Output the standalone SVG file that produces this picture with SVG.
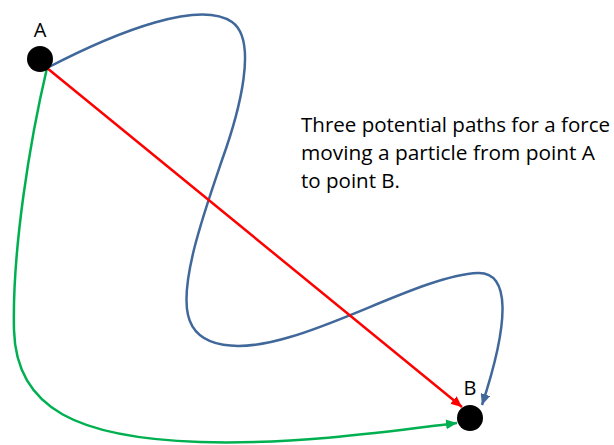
<svg xmlns="http://www.w3.org/2000/svg" width="614" height="445" viewBox="0 0 614 445">
<style>
.lbl{font-family:"Open Sans","Liberation Sans",sans-serif;font-size:20px;fill:#000;text-anchor:middle}
.cap{font-family:"Open Sans","Liberation Sans",sans-serif;font-size:20px;fill:#000}
.path{fill:none;stroke-width:2.5}
</style>
<defs>
<marker id="ar" markerUnits="userSpaceOnUse" markerWidth="12" markerHeight="10" refX="11" refY="5" orient="auto"><path d="M0,0 L11,5 L0,10 Z" fill="#FF0000"/></marker>
<marker id="ab" markerUnits="userSpaceOnUse" markerWidth="12" markerHeight="10" refX="11" refY="5" orient="auto"><path d="M0,0 L11,5 L0,10 Z" fill="#41689A"/></marker>
<marker id="ag" markerUnits="userSpaceOnUse" markerWidth="12" markerHeight="10" refX="11" refY="5" orient="auto"><path d="M0,0 L11,5 L0,10 Z" fill="#00B050"/></marker>
</defs>
<rect width="614" height="445" fill="#fff"/>
<g id="connectors">
<path id="blue" class="path" stroke="#41689A" marker-end="url(#ab)" d="M47,68 C120,30 200,0 232,22 C258,40 240,110 222,160 C205,210 180,280 188,315 C196,350 240,352 290,337 C350,320 430,275 478,273 C510,272 510,320 482,405"/>
<path id="green" class="path" stroke="#00B050" marker-end="url(#ag)" d="M47,68 C30,140 12,250 14,330 C16,410 80,438 200,442 C300,445 400,430 457,423"/>
<path id="red" class="path" stroke="#FF0000" marker-end="url(#ar)" d="M47,68 L462,407"/>
</g>
<g id="nodeA">
<circle cx="40" cy="59" r="13" fill="#000"/>
<text class="lbl" x="40" y="37">A</text>
</g>
<g id="nodeB">
<circle cx="470" cy="418" r="13" fill="#000"/>
<text class="lbl" x="470" y="395">B</text>
</g>
<g id="caption">
<text class="cap" x="301" y="132" textLength="309" lengthAdjust="spacingAndGlyphs">Three potential paths for a force</text>
<text class="cap" x="301" y="160" textLength="294" lengthAdjust="spacingAndGlyphs">moving a particle from point A</text>
<text class="cap" x="301" y="188" textLength="99" lengthAdjust="spacingAndGlyphs">to point B.</text>
</g>
</svg>
